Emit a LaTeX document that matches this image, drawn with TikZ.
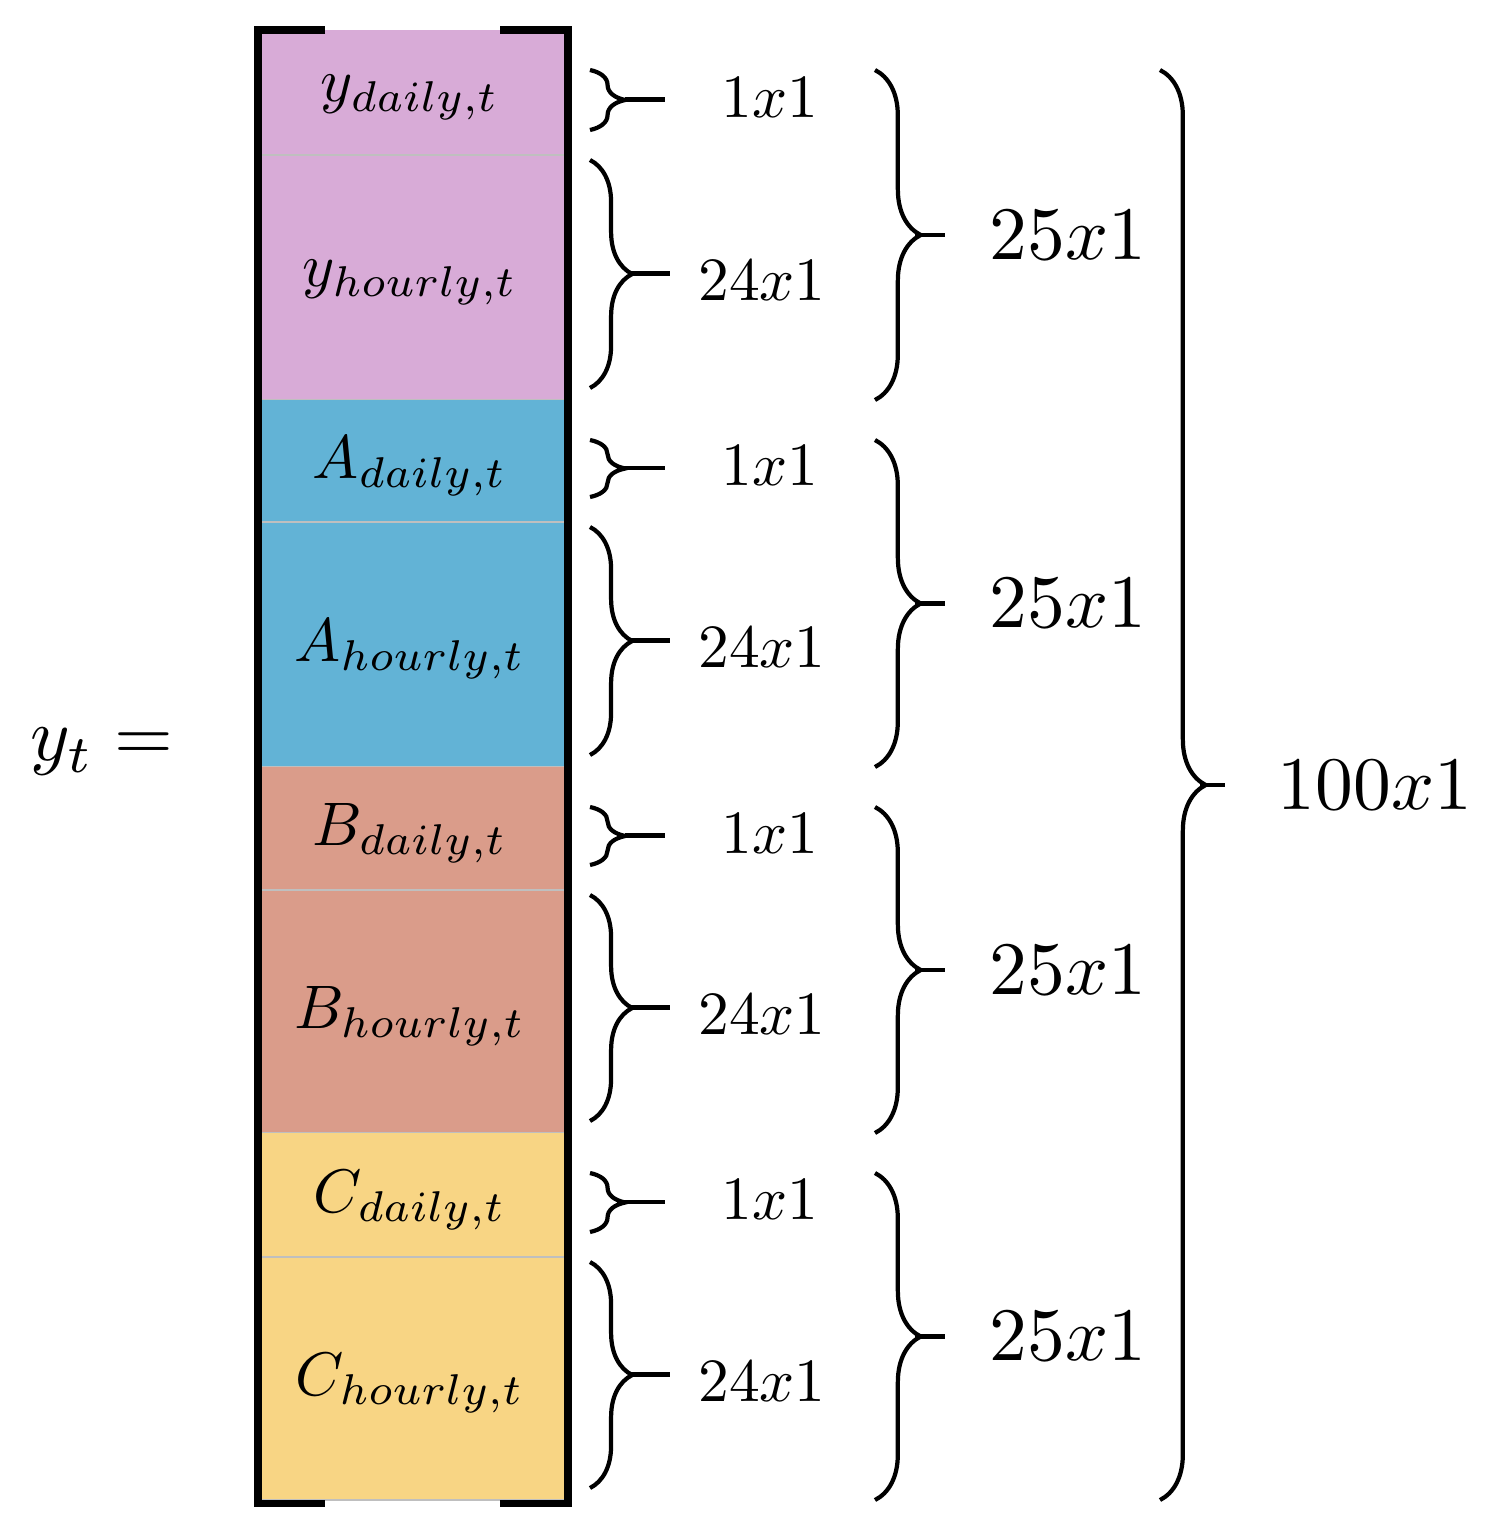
\documentclass[tikz,border=0pt]{standalone}
\usetikzlibrary{decorations.pathreplacing}
\newcommand{\sm}[1]{\scalebox{3.5}{$#1$}}
\newcommand{\bg}[1]{\scalebox{4.3}{$#1$}}
\begin{document}
\begin{tikzpicture}[x=0.02cm,y=-0.02cm,
 cell/.style={draw=black!25,line width=1pt},
 br/.style={decorate,decoration={brace,amplitude=#1},line width=2.4pt},
 lab/.style={inner sep=0pt},
 big/.style={inner sep=0pt}]
\useasboundingbox (0,0) rectangle (1505,1538);
\definecolor{pk}{HTML}{D8ABD7}\definecolor{bl}{HTML}{62B3D6}
\definecolor{rd}{HTML}{DA9C8A}\definecolor{yl}{HTML}{F8D584}
\foreach \c/\a/\b/\e/\n in {pk/30/155/400/y,bl/400/522/767/A,rd/767/890/1133/B,yl/1133/1257/1500/C}{
 \fill[\c] (258,\a) rectangle (568,\e);
 \draw[cell] (258,\b) -- (568,\b);
 \draw[cell] (258,\e) -- (568,\e);
 \node[lab] (d\n) at (410,{(\a+\b)/2+5}) {\sm{\n_{daily,t}}};
 \node[lab] (h\n) at (410,{(\b+\e)/2+5}) {\sm{\n_{hourly,t}}};
 \draw[br=20pt] (590,{\a+40}) -- (590,{\b-25});
 \draw[line width=2.4pt] (625,{(\a+\b)/2+7}) -- (665,{(\a+\b)/2+7});
 \node[lab] (s\n) at (770,{(\a+\b)/2+5}) {\sm{1x1}};
 \draw[br=24pt] (590,{\b+5}) -- (590,{\e-12});
 \draw[line width=2.4pt] (630,{(\b+\e)/2-4}) -- (670,{(\b+\e)/2-4});
 \node[lab] (m\n) at (762,{(\b+\e)/2+3}) {\sm{24x1}};
 \draw[br=26pt] (875,{\a+40}) -- (875,{\e});
 \draw[line width=2.4pt] (915,{(\a+\e)/2+20}) -- (945,{(\a+\e)/2+20});
 \node[big] (t\n) at (1068,{(\a+\e)/2+20}) {\bg{25x1}};
}
\draw[line width=4pt] (325,30) -- (258,30) -- (258,1503) -- (325,1503);
\draw[line width=4pt] (500,30) -- (568,30) -- (568,1503) -- (500,1503);
\draw[br=26pt] (1160,70) -- (1160,1500);
\draw[line width=2.4pt] (1200,785) -- (1225,785);
\node[big] (all) at (1375,785) {\bg{100x1}};
\node[big] (yt) at (102,752) {\bg{y_t =}};
\end{tikzpicture}
\end{document}
